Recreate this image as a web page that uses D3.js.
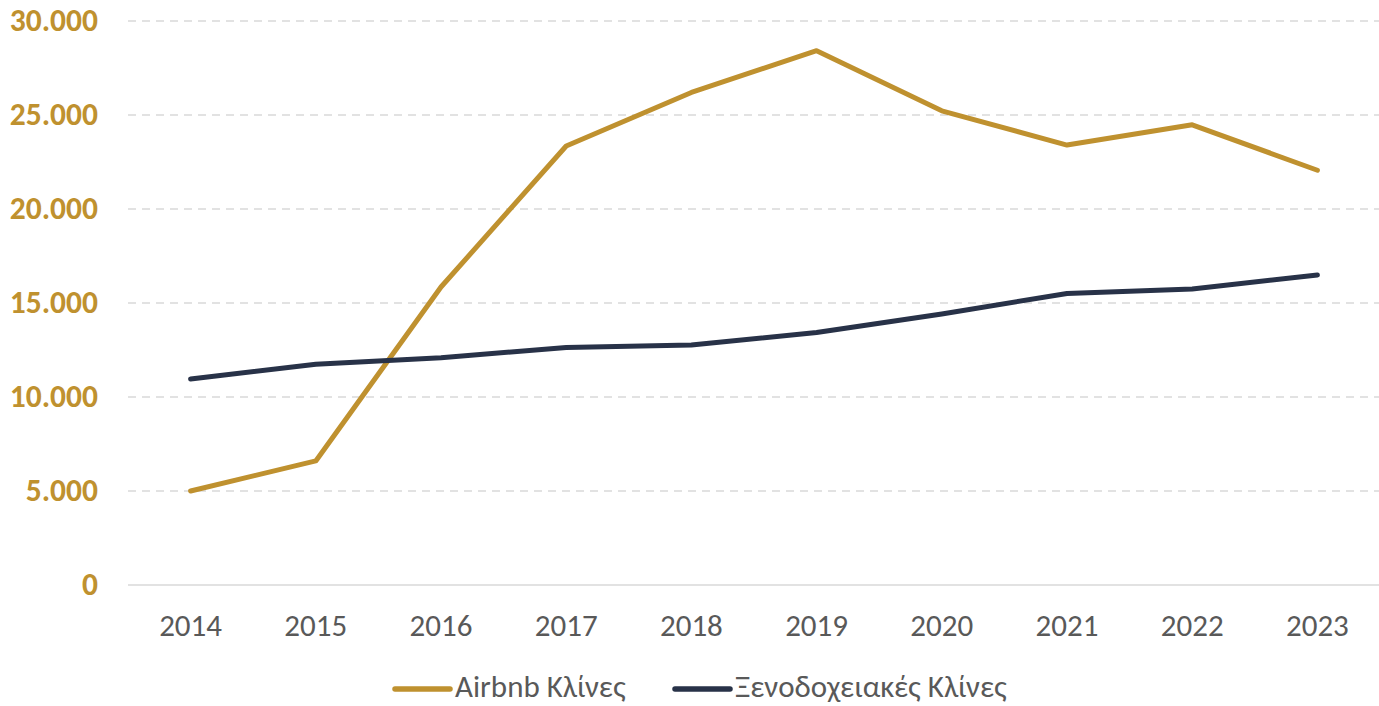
<!DOCTYPE html>
<html>
<head>
<meta charset="utf-8">
<script src="https://cdn.jsdelivr.net/npm/d3@7"></script>
<style>
    html, body { margin: 0; padding: 0; background: #fff; }
    svg { display: block; }
</style>
</head>
<body>
<svg id="chart" width="1379" height="706"></svg>
<script>
// data
var years = ['2014', '2015', '2016', '2017', '2018', '2019', '2020', '2021', '2022', '2023'];
var airbnbBeds = [5000, 6600, 15850, 23350, 26200, 28420, 25220, 23400, 24480, 22060];
var hotelBeds = [10960, 11740, 12090, 12630, 12770, 13430, 14420, 15510, 15750, 16490];
var yTicks = [0, 5000, 10000, 15000, 20000, 25000, 30000];
var seriesNames = ['Airbnb Κλίνες', 'Ξενοδοχειακές Κλίνες'];
var seriesColors = ['#BF912F', '#283248'];

var FONT = 'Carlito, Lato, "Liberation Sans", sans-serif';

var svg = d3.select('#chart');

var margin = {left: 128, right: -1, top: 21, bottom: 121};
var width = 1379 - margin.left - margin.right,
    height = 706 - margin.top - margin.bottom;

var x = d3.scaleBand().domain(years).range([0, width]);
var y = d3.scaleLinear().domain([0, 30000]).range([height, 0]);

var g = svg.append('g')
    .attr('transform', 'translate(' + margin.left + ',' + margin.top + ')');

// gridlines
g.selectAll('line.grid')
    .data(yTicks)
    .enter()
    .append('line')
    .attr('class', 'grid')
    .attr('x1', 0)
    .attr('x2', width)
    .attr('y1', function(d) { return y(d); })
    .attr('y2', function(d) { return y(d); })
    .attr('stroke', '#D9D9D9')
    .attr('stroke-width', 1.5)
    .attr('stroke-dasharray', function(d) { return d === 0 ? null : '8,6'; });

// y labels
var fmt = function(d) {
    return d3.format(',')(d).replace(/,/g, '.');
};

g.selectAll('text.ylab')
    .data(yTicks)
    .enter()
    .append('text')
    .attr('class', 'ylab')
    .attr('x', -30)
    .attr('y', function(d) { return y(d); })
    .attr('dy', '0.33em')
    .attr('text-anchor', 'end')
    .attr('font-family', FONT)
    .attr('font-weight', 'bold')
    .attr('font-size', 31.5)
    .attr('fill', '#BF912F')
    .text(fmt);

// x labels
g.selectAll('text.xlab')
    .data(years)
    .enter()
    .append('text')
    .attr('class', 'xlab')
    .attr('x', function(d) { return x(d) + x.bandwidth() / 2; })
    .attr('y', height + 51)
    .attr('text-anchor', 'middle')
    .attr('font-family', FONT)
    .attr('font-size', 31)
    .attr('fill', '#595959')
    .text(function(d) { return d; });

// lines
var line = d3.line()
    .x(function(d, i) { return x(years[i]) + x.bandwidth() / 2; })
    .y(function(d) { return y(d); });

[airbnbBeds, hotelBeds].forEach(function(values, i) {
    g.append('path')
        .datum(values)
        .attr('d', line)
        .attr('fill', 'none')
        .attr('stroke', seriesColors[i])
        .attr('stroke-width', 5)
        .attr('stroke-linecap', 'round')
        .attr('stroke-linejoin', 'round');
});

// legend
var legendX = [395, 675];
var legend = svg.selectAll('g.legend')
    .data(seriesNames)
    .enter()
    .append('g')
    .attr('class', 'legend')
    .attr('transform', function(d, i) { return 'translate(' + legendX[i] + ',689)'; });

legend.append('line')
    .attr('x1', 0)
    .attr('x2', 55)
    .attr('stroke', function(d, i) { return seriesColors[i]; })
    .attr('stroke-width', 5.5)
    .attr('stroke-linecap', 'round');

legend.append('text')
    .attr('x', 60)
    .attr('y', 0)
    .attr('dy', '0.27em')
    .attr('font-family', FONT)
    .attr('font-size', 31)
    .attr('fill', '#595959')
    .text(function(d) { return d; });
</script>
</body>
</html>
